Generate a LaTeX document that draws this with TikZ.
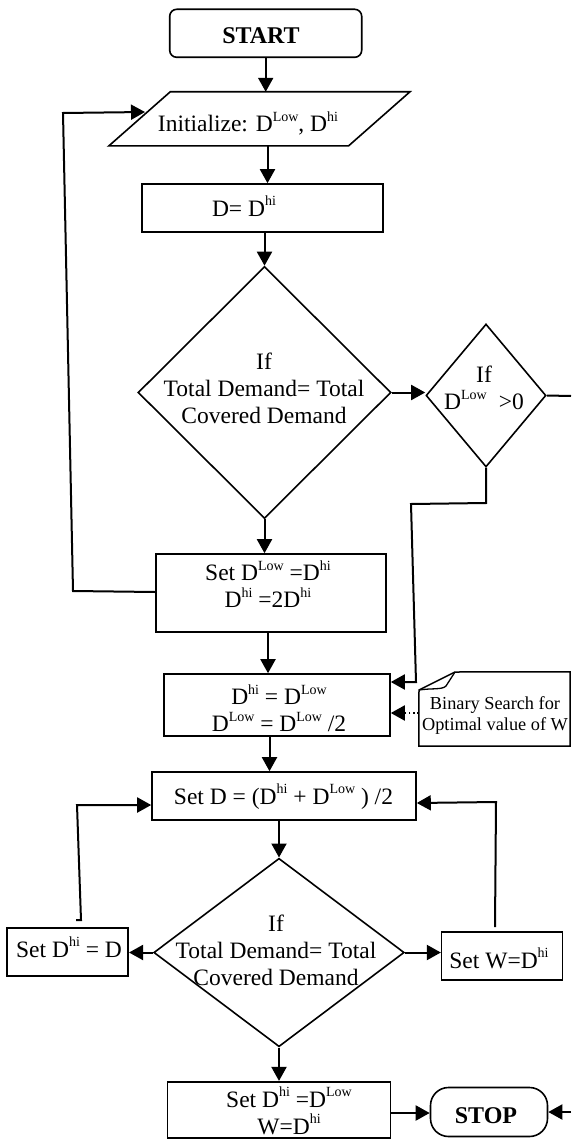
\documentclass[tikz,border=0pt]{standalone}
\usepackage{fontspec}
\setmainfont{Liberation Serif}
\usetikzlibrary{arrows.meta,shapes.geometric}
\newcommand{\su}[1]{\raisebox{10.5pt}{\fontsize{14}{14}\selectfont #1}}
\begin{document}
\begin{tikzpicture}[x=1pt,y=-1pt,
  bx/.style={draw, line width=1.6pt, inner sep=0pt},
  tx/.style={font=\fontsize{23.5}{27}\selectfont, inner sep=0pt, align=center},
  bold/.style={font=\fontsize{24}{28}\selectfont\bfseries},
  ln/.style={line width=2pt},
  arr/.style={ln, -{Triangle[length=14pt,width=15pt]}}]
\useasboundingbox (0,0) rectangle (571,1142);

% START
\node[bx, rounded corners=7pt, minimum width=192pt, minimum height=48pt] (start) at (265.7,33.3) {};
\node[tx, bold, anchor=base] (startT) at (261,43.5) {START};

% Initialize parallelogram
\node[inner sep=0pt, minimum width=300.7pt, minimum height=53.7pt] (init) at (259.4,118.85) {};
\draw[line width=1.6pt] ([xshift=61.4pt]init.north west) -- (init.north east) -- ([xshift=-61.4pt]init.south east) -- (init.south west) -- cycle;
\node[tx, anchor=base] (initT) at (248,131.7) {Initialize: D\su{Low}, D\su{hi}};
\coordinate (initL) at (145,112);

% D = D^hi
\node[bx, minimum width=241pt, minimum height=48pt] (box1) at (262.5,208) {};
\node[tx, anchor=base] (box1T) at (244,216) {D= D\su{hi}};

% Decision 1
\node[bx, diamond, minimum width=253pt, minimum height=252pt] (d1) at (264.5,392.5) {};
\node[tx] (d1T) at (264,388) {If\\Total Demand= Total\\Covered Demand};

% Decision small
\node[bx, diamond, minimum width=120pt, minimum height=143pt] (sd) at (486,395.5) {};
\node[tx] (sdT) at (484,388) {If\\D\su{Low}\hspace{12pt}>0};
\coordinate (edgeR1) at (571,396);

% Set D^Low
\node[bx, minimum width=230pt, minimum height=78pt] (b3) at (271,593) {};
\node[tx] (b3T) at (268,584) {Set D\su{Low} =D\su{hi}\\D\su{hi} =2D\su{hi}};

% D^hi = D^Low
\node[bx, minimum width=226pt, minimum height=62pt] (b4) at (277,705) {};
\node[tx] (b4T) at (279,708) {D\su{hi} = D\su{Low}\\D\su{Low} = D\su{Low} /2};

% note
\node[inner sep=0pt, minimum width=151pt, minimum height=74pt] (note) at (494.5,709) {};
\draw[line width=1.5pt] (note.south west) -- (419,690) -- (455,672) -- (note.north east) -- (note.south east) -- cycle;
\draw[line width=1.3pt] (419,690) .. controls (432,688) and (442,690) .. (446,686) -- (455,672);
\node[tx, font=\fontsize{18.3}{21}\selectfont] (noteT) at (495,715) {Binary Search for\\Optimal value of W};

% Set D = (..)/2
\node[bx, minimum width=264pt, minimum height=48pt] (b5) at (284,796) {};
\node[tx, anchor=base] (b5T) at (283.5,804) {Set D = (D\su{hi} + D\su{Low} ) /2};

% Decision 2
\node[bx, diamond, minimum width=250.5pt, minimum height=188.4pt] (d2) at (279,952.5) {};
\node[tx] (d2T) at (276,950) {If\\Total Demand= Total\\Covered Demand};

% side boxes
\node[bx, minimum width=121pt, minimum height=48pt] (b6) at (67.75,951.7) {};
\node[tx, anchor=base] (b6T) at (69,957) {Set D\su{hi} = D};
\node[bx, minimum width=121pt, minimum height=48.3pt] (b7) at (502.15,955.85) {};
\node[tx, anchor=base] (b7T) at (499,968) {Set W=D\su{hi}};

% final
\node[bx, minimum width=223pt, minimum height=56pt] (b8) at (279,1109.7) {};
\node[tx] (b8T) at (289,1111) {Set D\su{hi} =D\su{Low}\\W=D\su{hi}};
\node[bx, rounded corners=18pt, minimum width=117pt, minimum height=49pt] (stop) at (489,1112) {};
\node[tx, bold, anchor=base] (stopT) at (486,1123) {STOP};
\coordinate (edgeR2) at (571,1112);

% connectors
\draw[arr] (start.south) -- (start.south |- init.north);
\draw[arr] (init.south -| 267.5,0) -- (box1.north -| 267.5,0);
\draw[arr] (box1.south -| d1.north) -- (d1.north);
\draw[arr] (d1.east) -- (d1.east -| sd.west);
\draw[ln] (sd.east) -- (edgeR1);
\draw[arr] (sd.south) -- (486,503) -- (411,504) -- (416,682) -- (b4.east |- 0,682);
\draw[arr] (d1.south) -- (d1.south |- b3.north);
\draw[arr] (b3.west |- 0,592) -- (73,591) -- (63,113) -- (initL);
\draw[arr] (b3.south -| 268,0) -- (b4.north -| 268,0);
\draw[arr, dash pattern=on 1.6pt off 2.6pt] (note.west |- 0,713) -- (b4.east |- 0,713);
\draw[arr] (b4.south -| 269.5,0) -- (b5.north -| 269.5,0);
\draw[arr] (b5.south -| d2.north) -- (d2.north);
\draw[arr] (d2.west) -- (d2.west -| b6.east);
\draw[arr] (d2.east) -- (d2.east -| b7.west);
\draw[arr] (76,920) -- (81,920) -- (77,805) -- (b5.west |- 0,805);
\draw[arr] (495,927) -- (496,802) -- (b5.east |- 0,803);
\draw[arr] (d2.south) -- (d2.south |- b8.north);
\draw[arr] (b8.east |- 0,1113) -- (stop.west |- 0,1113);
\draw[arr] (edgeR2) -- (stop.east |- 0,1112);
\end{tikzpicture}
\end{document}
